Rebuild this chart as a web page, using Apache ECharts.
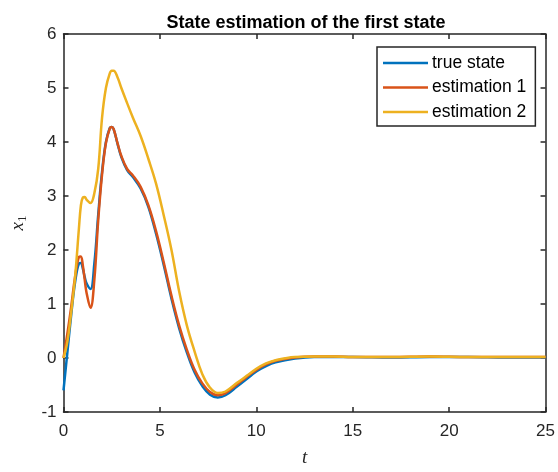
<!DOCTYPE html>
<html>
<head>
<meta charset="utf-8">
<script src="https://cdn.jsdelivr.net/npm/echarts@6/dist/echarts.min.js"></script>
<style>html,body{margin:0;padding:0;background:#fff}#c{width:558px;height:472px}</style>
</head>
<body>
<div id="c"></div>
<script>
var tValues = [0, 0.2, 0.4, 0.6, 0.8, 0.9, 1.0, 1.1, 1.2, 1.4, 1.6, 1.8, 2.0, 2.2, 2.4, 2.5, 2.6, 2.8, 3.0, 3.3, 3.6, 4.0, 4.4, 4.8, 5.2, 5.6, 6.0, 6.4, 6.8, 7.2, 7.6, 8.0, 8.4, 9.0, 9.5, 10, 10.5, 11, 12, 13, 14, 15, 17, 19, 21, 23, 25];
var trueState = [-0.6, 0.1, 0.8, 1.4, 1.75, 1.76, 1.66, 1.5, 1.38, 1.28, 1.75, 2.65, 3.45, 4.0, 4.26, 4.28, 4.24, 3.97, 3.72, 3.48, 3.35, 3.14, 2.8, 2.3, 1.72, 1.1, 0.55, 0.1, -0.27, -0.52, -0.68, -0.73, -0.69, -0.53, -0.39, -0.25, -0.15, -0.08, -0.01, 0.02, 0.02, 0.02, 0.01, 0.02, 0.02, 0.01, 0.01];
var estimation1 = [0.0, 0.45, 0.95, 1.5, 1.87, 1.88, 1.72, 1.45, 1.2, 0.93, 1.45, 2.55, 3.4, 3.98, 4.25, 4.28, 4.24, 3.98, 3.74, 3.5, 3.38, 3.17, 2.83, 2.35, 1.77, 1.15, 0.6, 0.15, -0.22, -0.47, -0.63, -0.69, -0.65, -0.49, -0.35, -0.22, -0.12, -0.05, 0.01, 0.03, 0.03, 0.02, 0.02, 0.03, 0.02, 0.02, 0.02];
var estimation2 = [0.0, 0.3, 0.85, 1.5, 2.4, 2.82, 2.97, 2.98, 2.93, 2.87, 3.05, 3.5, 4.45, 5.0, 5.27, 5.32, 5.32, 5.2, 5.0, 4.72, 4.45, 4.11, 3.69, 3.23, 2.64, 2.0, 1.23, 0.6, 0.12, -0.3, -0.55, -0.65, -0.62, -0.46, -0.33, -0.2, -0.1, -0.04, 0.02, 0.03, 0.03, 0.02, 0.02, 0.03, 0.02, 0.02, 0.02];
var xTicks = [0, 5, 10, 15, 20, 25];
var yTicks = [-1, 0, 1, 2, 3, 4, 5, 6];
var seriesNames = ['true state', 'estimation 1', 'estimation 2'];

function pairs(ys) { return tValues.map(function (t, i) { return [t, ys[i]]; }); }

var axisColor = '#262626';
var font = 'Liberation Sans, Arial, Helvetica, sans-serif';
var chart = echarts.init(document.getElementById('c'), null, {renderer: 'canvas'});
var baseX = {type: 'value', min: xTicks[0], max: xTicks[xTicks.length - 1], interval: 5,
  axisLine: {show: true, onZero: false, lineStyle: {color: axisColor, width: 1.5}},
  axisTick: {show: true, inside: true, length: 5, lineStyle: {color: axisColor, width: 1.5}},
  splitLine: {show: false}};
var baseY = {type: 'value', min: yTicks[0], max: yTicks[yTicks.length - 1], interval: 1,
  axisLine: {show: true, onZero: false, lineStyle: {color: axisColor, width: 1.5}},
  axisTick: {show: true, inside: true, length: 5, lineStyle: {color: axisColor, width: 1.5}},
  splitLine: {show: false}};
chart.setOption({
  animation: false,
  backgroundColor: '#fff',
  title: {text: 'State estimation of the first state', left: 301, textAlign: 'center', top: 9,
    textStyle: {fontFamily: font, fontSize: 18, fontWeight: 'bold', color: '#000'}},
  grid: {left: 55, right: 10.5, top: 34, bottom: 51, containLabel: false},
  legend: {orient: 'vertical', left: 377, top: 47, data: seriesNames, icon: 'rect',
    itemWidth: 45, itemHeight: 2.5, itemGap: 6.5, backgroundColor: '#fff',
    borderColor: axisColor, borderWidth: 1.5, padding: [7, 9, 5, 6],
    textStyle: {fontFamily: font, fontSize: 17.5, color: '#000', padding: [0, 0, 0, -1]}},
  xAxis: [
    Object.assign({}, baseX, {position: 'bottom', name: 't', nameLocation: 'middle', nameGap: 36,
      nameTextStyle: {fontFamily: 'Liberation Serif, serif', fontStyle: 'italic', fontSize: 19, color: axisColor},
      axisLabel: {margin: 11, fontFamily: font, fontSize: 17, color: axisColor}}),
    Object.assign({}, baseX, {position: 'top', axisLabel: {show: false}})
  ],
  yAxis: [
    Object.assign({}, baseY, {position: 'left', name: '{a|x}{b|1}', nameLocation: 'middle', nameGap: 34, nameRotate: 90,
      nameTextStyle: {color: axisColor, rich: {
        a: {fontFamily: 'Liberation Serif, serif', fontStyle: 'italic', fontSize: 19, color: axisColor, lineHeight: 24, verticalAlign: 'middle'},
        b: {fontFamily: 'Liberation Serif, serif', fontSize: 13, color: axisColor, lineHeight: 24, verticalAlign: 'bottom', padding: [7, 0, 0, 0]}}},
      axisLabel: {margin: 7, fontFamily: font, fontSize: 17, color: axisColor}}),
    Object.assign({}, baseY, {position: 'right', axisLabel: {show: false}})
  ],
  series: [
    {name: seriesNames[0], type: 'line', data: pairs(trueState), smooth: 0.4, showSymbol: false, symbol: 'none',
      lineStyle: {color: '#0072BD', width: 2.5}, itemStyle: {color: '#0072BD'}, z: 2},
    {name: seriesNames[1], type: 'line', data: pairs(estimation1), smooth: 0.4, showSymbol: false, symbol: 'none',
      lineStyle: {color: '#D95319', width: 2.5}, itemStyle: {color: '#D95319'}, z: 3},
    {name: seriesNames[2], type: 'line', data: pairs(estimation2), smooth: 0.4, showSymbol: false, symbol: 'none',
      lineStyle: {color: '#EDB120', width: 2.5}, itemStyle: {color: '#EDB120'}, z: 4}
  ]
});
</script>
</body>
</html>
